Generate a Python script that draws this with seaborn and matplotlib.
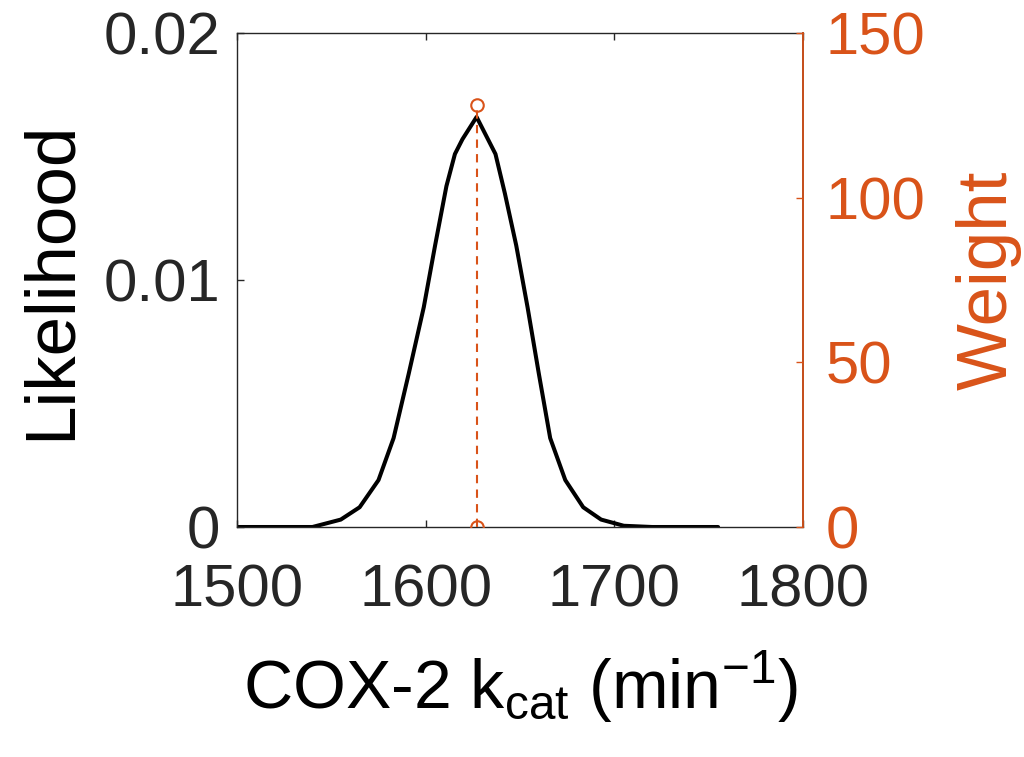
import matplotlib
matplotlib.use("Agg")
import matplotlib.pyplot as plt
import seaborn as sns
import pandas as pd

# ---- data ----
kcat = [1500, 1520, 1540, 1545, 1555, 1565, 1575, 1583, 1591, 1599, 1605, 1611,
        1615.5, 1619.5, 1627, 1637, 1642, 1648, 1654, 1660, 1666, 1674, 1683.5,
        1693, 1705, 1720, 1740, 1755]
likelihood = [0, 0, 0, 0.0001, 0.0003, 0.0008, 0.0019, 0.0036, 0.0062, 0.0089,
              0.0114, 0.0138, 0.0151, 0.0157, 0.0166, 0.0151, 0.0135, 0.0114,
              0.0089, 0.0062, 0.0036, 0.0019, 0.0008, 0.0003, 0.00005, 0, 0, 0]
weight_x = [1627, 1627]
weight_y = [0, 128]

x_ticks = [1500, 1600, 1700, 1800]
left_ticks = [0, 0.01, 0.02]
left_ticklabels = ["0", "0.01", "0.02"]
right_ticks = [0, 50, 100, 150]

ORANGE = "#D95319"
DARK = "#262626"

sns.set_theme(style="white")
plt.rcParams["font.family"] = ["Liberation Sans", "DejaVu Sans"]
plt.rcParams["mathtext.fontset"] = "custom"
plt.rcParams["mathtext.rm"] = "Liberation Sans"
plt.rcParams["mathtext.it"] = "Liberation Sans:italic"
plt.rcParams["mathtext.default"] = "regular"

TICK_FS = 43
LABEL_FS = 51
XLABEL_FS = 49

fig = plt.figure(figsize=(10.24, 7.57), dpi=100)
ax = fig.add_axes([237 / 1024, 1 - 527 / 757, (803 - 237) / 1024, (527 - 33) / 757])

df_curve = pd.DataFrame({"kcat": kcat, "likelihood": likelihood})
sns.lineplot(data=df_curve, x="kcat", y="likelihood", ax=ax, color="black",
             linewidth=2.9, estimator=None, sort=False)

ax.set_xlim(1500, 1800)
ax.set_ylim(0, 0.02)
ax.set_xticks(x_ticks)
ax.set_xticklabels([str(v) for v in x_ticks])
ax.set_yticks(left_ticks)
ax.set_yticklabels(left_ticklabels)
ax.tick_params(axis="both", direction="in", length=5, width=1, labelsize=TICK_FS,
               colors=DARK, top=True, bottom=True, left=True, right=False)
ax.tick_params(axis="y", pad=12)
ax.tick_params(axis="x", pad=26)
ax.set_xlabel("COX-2 k$_{cat}$ (min$^{-1}$)", fontsize=XLABEL_FS, color="black", labelpad=22)
ax.set_ylabel("Likelihood", fontsize=LABEL_FS, color="black", labelpad=14)
for s in ["left", "top", "bottom"]:
    ax.spines[s].set_color(DARK)
    ax.spines[s].set_linewidth(1)
    ax.spines[s].set_visible(True)

ax2 = ax.twinx()
df_w = pd.DataFrame({"kcat": weight_x, "weight": weight_y})
sns.lineplot(data=df_w, x="kcat", y="weight", ax=ax2, color=ORANGE, linewidth=1.5,
             linestyle=(0, (4, 3)), marker="o", markersize=9, markerfacecolor="none",
             markeredgecolor=ORANGE, markeredgewidth=1.5, estimator=None, sort=False)
ax2.set_ylim(0, 150)
ax2.set_yticks(right_ticks)
ax2.set_yticklabels([str(v) for v in right_ticks])
ax2.tick_params(axis="y", direction="in", length=5, width=1, labelsize=TICK_FS,
                colors=ORANGE, pad=16, left=False, right=True)
ax2.set_ylabel("Weight", fontsize=LABEL_FS, color=ORANGE, labelpad=22)
ax2.set_xlabel("")
ax2.spines["right"].set_color(ORANGE)
ax2.spines["right"].set_visible(True)
ax2.spines["left"].set_visible(False)
ax2.spines["top"].set_visible(False)
ax2.spines["bottom"].set_visible(False)
ax2.set_xlim(1500, 1800)

fig.savefig("out.png", dpi=100, facecolor="white")
